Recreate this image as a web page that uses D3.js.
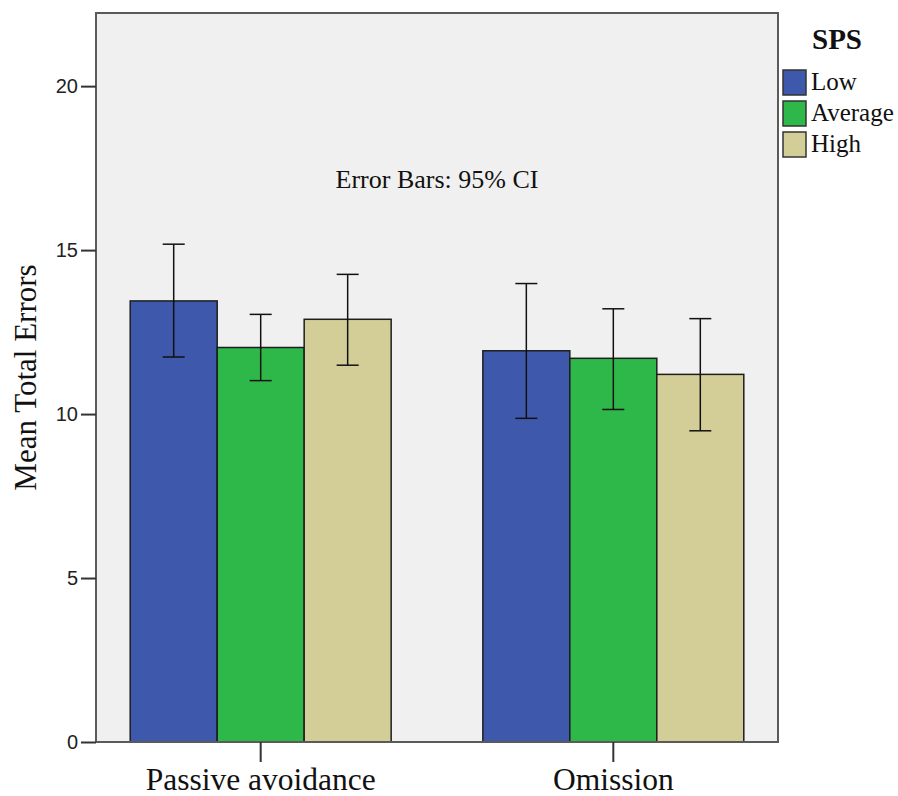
<!DOCTYPE html>
<html>
<head>
<meta charset="utf-8">
<script src="https://cdn.jsdelivr.net/npm/d3@7"></script>
<style>
  body { margin: 0; background: #fff; }
  svg { display: block; }
</style>
</head>
<body>
<svg id="chart"></svg>
<script>
// data
const categories = ['Passive avoidance', 'Omission'];
const groups = ['Low', 'Average', 'High'];
const means = [
  [13.45, 12.03, 12.89],
  [11.93, 11.70, 11.21]
];
const ciLow = [
  [11.74, 11.02, 11.49],
  [9.87, 10.14, 9.49]
];
const ciHigh = [
  [15.18, 13.04, 14.26],
  [13.98, 13.21, 12.91]
];
const yTicks = [0, 5, 10, 15, 20];
const colors = ['#3e58ab', '#2fb84a', '#d3ce98'];

const width = 898, height = 796;
const margin = { top: 13, right: 120, bottom: 54, left: 96 };
const plotW = width - margin.left - margin.right;
const plotH = height - margin.top - margin.bottom;

const serif = '"Liberation Serif", "Times New Roman", serif';
const sans = '"Liberation Sans", Arial, sans-serif';

const svg = d3.select('#chart')
  .attr('width', width)
  .attr('height', height);

const g = svg.append('g')
  .attr('transform', `translate(${margin.left},${margin.top})`);

const x0 = d3.scaleBand()
  .domain(categories)
  .range([0, plotW])
  .paddingInner(0.26)
  .paddingOuter(0.097);

const x1 = d3.scaleBand()
  .domain(groups)
  .range([0, x0.bandwidth()]);

const y = d3.scaleLinear()
  .domain([0, 22.23])
  .range([plotH, 0]);

// plot background
g.append('rect')
  .attr('width', plotW)
  .attr('height', plotH)
  .attr('fill', '#f0f0f0');

const rows = categories.map((c, i) => groups.map((s, j) => ({
  cat: c, grp: s, j,
  mean: means[i][j], lo: ciLow[i][j], hi: ciHigh[i][j]
})));

const catG = g.selectAll('.cat')
  .data(rows)
  .enter().append('g')
    .attr('class', 'cat')
    .attr('transform', (d, i) => `translate(${x0(categories[i])},0)`);

catG.selectAll('rect')
  .data(d => d)
  .enter().append('rect')
    .attr('x', d => x1(d.grp))
    .attr('y', d => y(d.mean))
    .attr('width', x1.bandwidth())
    .attr('height', d => y(0) - y(d.mean))
    .attr('fill', d => colors[d.j])
    .attr('stroke', '#1e1e1e')
    .attr('stroke-width', 1.5);

// error bars
const cap = 11;
const eb = catG.selectAll('.eb')
  .data(d => d)
  .enter().append('g')
    .attr('class', 'eb')
    .attr('stroke', '#111')
    .attr('stroke-width', 1.5);

const cx = d => x1(d.grp) + x1.bandwidth() / 2;
eb.append('line')
  .attr('x1', cx)
  .attr('x2', cx)
  .attr('y1', d => y(d.lo))
  .attr('y2', d => y(d.hi));
eb.append('line')
  .attr('x1', d => cx(d) - cap)
  .attr('x2', d => cx(d) + cap)
  .attr('y1', d => y(d.hi))
  .attr('y2', d => y(d.hi));
eb.append('line')
  .attr('x1', d => cx(d) - cap)
  .attr('x2', d => cx(d) + cap)
  .attr('y1', d => y(d.lo))
  .attr('y2', d => y(d.lo));

// frame
g.append('rect')
  .attr('width', plotW)
  .attr('height', plotH)
  .attr('fill', 'none')
  .attr('stroke', '#5a5a5a')
  .attr('stroke-width', 2);

// y axis
const yAxis = g.append('g')
  .call(d3.axisLeft(y).tickValues(yTicks).tickSize(15).tickPadding(3));
yAxis.select('.domain').remove();
yAxis.selectAll('line').attr('stroke', '#333').attr('stroke-width', 2);
yAxis.selectAll('text')
  .style('font-family', sans)
  .style('font-size', '20px')
  .attr('fill', '#222');

// x axis
const xAxis = g.append('g')
  .attr('transform', `translate(0,${plotH})`)
  .call(d3.axisBottom(x0).tickSize(20).tickPadding(6));
xAxis.select('.domain').remove();
xAxis.selectAll('line').attr('stroke', '#333').attr('stroke-width', 2);
xAxis.selectAll('text')
  .style('font-family', serif)
  .style('font-size', '31.5px')
  .attr('fill', '#111');

// y title
svg.append('text')
  .attr('transform', `translate(36,${margin.top + plotH / 2}) rotate(-90)`)
  .attr('text-anchor', 'middle')
  .style('font-family', serif)
  .style('font-size', '31px')
  .attr('fill', '#111')
  .text('Mean Total Errors');

// error bar note
g.append('text')
  .attr('x', x0(categories[0]) + (x0(categories[1]) + x0.bandwidth() - x0(categories[0])) / 2)
  .attr('y', y(20) + 102)
  .attr('text-anchor', 'middle')
  .style('font-family', serif)
  .style('font-size', '26px')
  .attr('fill', '#111')
  .text('Error Bars: 95% CI');

// legend
const lg = svg.append('g')
  .attr('transform', `translate(${margin.left + plotW + 5},0)`);
lg.append('text')
  .attr('x', 29)
  .attr('y', 49)
  .style('font-family', serif)
  .style('font-weight', 'bold')
  .style('font-size', '29px')
  .attr('fill', '#111')
  .text('SPS');
const items = lg.selectAll('.item')
  .data(groups)
  .enter().append('g')
    .attr('class', 'item')
    .attr('transform', (d, i) => `translate(0,${70 + i * 31})`);
items.append('rect')
  .attr('width', 23)
  .attr('height', 25)
  .attr('fill', (d, i) => colors[i])
  .attr('stroke', '#333')
  .attr('stroke-width', 1.5);
items.append('text')
  .attr('x', 28)
  .attr('y', 20)
  .style('font-family', serif)
  .style('font-size', '25px')
  .attr('fill', '#111')
  .text(d => d);
</script>
</body>
</html>
